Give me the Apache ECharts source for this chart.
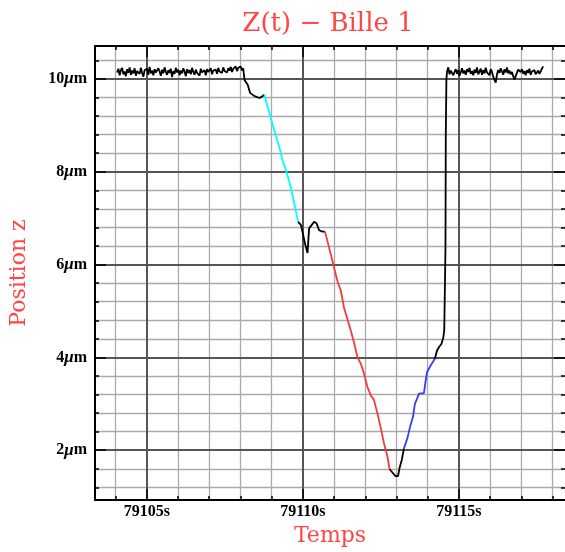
<!DOCTYPE html>
<html>
<head>
<meta charset="utf-8">
<script src="https://cdn.jsdelivr.net/npm/echarts@6/dist/echarts.min.js"></script>
<style>html,body{margin:0;padding:0;background:#fff;}#c{width:565px;height:552px;}</style>
</head>
<body>
<div id="c"></div>
<script>
// ---- axis ranges and ticks ----
const xRange = [79103.34, 79118.40];
const yRange = [0.925, 10.71];
const xMajor = [79105, 79110, 79115];
const xMinor = [79104, 79106, 79107, 79108, 79109, 79111, 79112, 79113, 79114, 79116, 79117, 79118];
const yMajor = [2, 4, 6, 8, 10];
const yMinor = [1.2, 1.6, 2.4, 2.8, 3.2, 3.6, 4.4, 4.8, 5.2, 5.6, 6.4, 6.8, 7.2, 7.6, 8.4, 8.8, 9.2, 9.6, 10.4];

// ---- data: plateaus (sampled every 0.04 s) ----
const plateau1Start = 79104.05;
const plateau2Start = 79114.62;
const sampleStep = 0.04;
const plateau1 = [10.14,10.22,10.08,10.19,10.24,10.10,10.16,10.06,10.21,10.13,
  10.25,10.09,10.18,10.12,10.23,10.07,10.17,10.20,10.11,10.24,
  10.13,10.05,10.19,10.15,10.22,10.09,10.26,10.12,10.18,10.08,
  10.21,10.14,10.10,10.23,10.16,10.07,10.20,10.12,10.25,10.15,
  10.09,10.19,10.13,10.22,10.04,10.17,10.11,10.24,10.14,10.20,
  10.08,10.18,10.12,10.23,10.16,10.06,10.21,10.13,10.19,10.10,
  10.24,10.15,10.09,10.20,10.13,10.17,10.07,10.22,10.14,10.11,
  10.19,10.08,10.21,10.15,10.12,10.23,10.10,10.18,10.14,10.20,
  10.11,10.24,10.16,10.19,10.13,10.25,10.17,10.21,10.14,10.23,
  10.18,10.26,10.15,10.22,10.19,10.27,10.17,10.24,10.20,10.27,
  10.18,10.23];
const plateau2 = [10.16,10.25,10.10,10.18,10.22,10.08,10.15,10.21,10.11,10.19,
  10.07,10.14,10.23,10.12,10.18,10.09,10.21,10.15,10.24,10.11,
  10.17,10.08,10.20,10.13,10.25,10.10,10.16,10.22,10.09,10.19,
  10.12,10.24,10.14,10.18,10.08,10.21,10.15,10.05,9.98,9.92,
  10.10,10.19,10.13,10.23,10.16,10.09,10.21,10.14,10.25,10.12,
  10.18,10.10,10.15,10.06,9.99,9.95,10.13,10.20,10.24,10.15,
  10.21,10.11,10.17,10.08,10.19,10.13,10.22,10.09,10.16,10.12,
  10.19,10.10,10.14,10.18,10.11,10.16,10.22,10.27];

// ---- data: transition segments [time s, z µm] ----
const dropBlack = [[79108.13,9.98],[79108.23,9.88],[79108.31,9.70],[79108.45,9.63],[79108.61,9.59],[79108.71,9.63],[79108.77,9.66]];
const cyanSeg = [[79108.77,9.66],[79108.82,9.52],[79108.93,9.27],[79109.03,9.02],[79109.14,8.77],[79109.25,8.53],[79109.35,8.24],[79109.46,8.03],[79109.57,7.78],[79109.67,7.50],[79109.78,7.14],[79109.85,6.92]];
const dipBlack = [[79109.85,6.92],[79109.94,6.85],[79110.01,6.64],[79110.08,6.42],[79110.15,6.25],[79110.16,6.21],[79110.20,6.78],[79110.26,6.82],[79110.36,6.92],[79110.44,6.89],[79110.52,6.74],[79110.63,6.71],[79110.71,6.71]];
const redSeg = [[79110.71,6.71],[79110.79,6.50],[79110.90,6.21],[79111.00,5.93],[79111.11,5.64],[79111.22,5.43],[79111.32,5.07],[79111.43,4.82],[79111.54,4.57],[79111.64,4.32],[79111.75,4.00],[79111.86,3.86],[79111.96,3.65],[79112.07,3.36],[79112.18,3.18],[79112.28,3.08],[79112.39,2.79],[79112.50,2.47],[79112.60,2.15],[79112.71,1.87],[79112.78,1.59]];
const minBlack = [[79112.78,1.59],[79112.87,1.52],[79112.97,1.44],[79113.05,1.44],[79113.10,1.62],[79113.17,1.79],[79113.24,2.04]];
const blueSeg = [[79113.24,2.04],[79113.35,2.26],[79113.45,2.54],[79113.53,2.72],[79113.59,3.00],[79113.66,3.11],[79113.72,3.22],[79113.88,3.23],[79113.93,3.47],[79113.98,3.68],[79114.09,3.82],[79114.23,3.97]];
const riseBlack = [[79114.23,3.97],[79114.30,4.15],[79114.36,4.22],[79114.44,4.29],[79114.50,4.43],[79114.53,4.57],[79114.55,5.43],[79114.57,6.35],[79114.58,8.77],[79114.60,9.99]];

const C_BLACK = '#000000', C_CYAN = '#00ffff', C_RED = '#f23c3c', C_BLUE = '#3a3aff';

function plateauPairs(start, vals) {
  return vals.map((v, i) => [+(start + i * sampleStep).toFixed(2), v]);
}
const seg1 = plateauPairs(plateau1Start, plateau1).concat(dropBlack);
const seg7 = riseBlack.concat(plateauPairs(plateau2Start, plateau2));
const segments = [
  [seg1, C_BLACK], [cyanSeg, C_CYAN], [dipBlack, C_BLACK], [redSeg, C_RED],
  [minBlack, C_BLACK], [blueSeg, C_BLUE], [seg7, C_BLACK]
];

const MINOR_GRID = '#aaaaaa', MAJOR_GRID = '#555555';
const gridLines = []
  .concat(xMinor.map(v => ({xAxis: v, lineStyle: {color: MINOR_GRID, width: 1.3, type: 'solid'}})))
  .concat(yMinor.map(v => ({yAxis: v, lineStyle: {color: MINOR_GRID, width: 1.3, type: 'solid'}})))
  .concat(xMajor.map(v => ({xAxis: v, lineStyle: {color: MAJOR_GRID, width: 2, type: 'solid'}})))
  .concat(yMajor.map(v => ({yAxis: v, lineStyle: {color: MAJOR_GRID, width: 2, type: 'solid'}})));

const LABEL_FONT = 'Liberation Serif';
const NAME_FONT = 'DejaVu Serif';
const RED_TXT = '#ff4646';

function xAx(pos, ticks, len, opts) {
  return Object.assign({
    type: 'value', position: pos, min: xRange[0], max: xRange[1], z: 10,
    axisLine: {show: false},
    axisTick: {show: true, inside: true, length: len, customValues: ticks, lineStyle: {color: '#000', width: 1.5}},
    axisLabel: {show: false},
    splitLine: {show: false}
  }, opts || {});
}
function yAx(pos, ticks, len, opts) {
  return Object.assign({
    type: 'value', position: pos, min: yRange[0], max: yRange[1], z: 10,
    axisLine: {show: false},
    axisTick: {show: true, inside: true, length: len, customValues: ticks, lineStyle: {color: '#000', width: 1.5}},
    axisLabel: {show: false},
    splitLine: {show: false}
  }, opts || {});
}

const option = {
  animation: false,
  backgroundColor: '#fff',
  title: {
    text: 'Z(t) \u2212 Bille 1', left: 323, top: 6, textAlign: 'center',
    textStyle: {fontFamily: NAME_FONT, fontSize: 26, fontWeight: 'normal', color: RED_TXT}
  },
  grid: {left: 95, top: 46, width: 471.5, height: 458},
  xAxis: [
    xAx('bottom', xMajor, 11, {
      axisLine: {show: true, onZero: false, lineStyle: {color: '#000', width: 2}},
      axisLabel: {show: true, customValues: xMajor, margin: 4, formatter: v => v + 's',
        fontFamily: LABEL_FONT, fontSize: 16, fontWeight: 'bold', color: '#000'},
      name: 'Temps', nameLocation: 'middle', nameGap: 18,
      nameTextStyle: {fontFamily: NAME_FONT, fontSize: 22, color: RED_TXT}
    }),
    xAx('bottom', xMinor, 4),
    xAx('top', xMajor, 11, {axisLine: {show: true, onZero: false, lineStyle: {color: '#000', width: 2}}}),
    xAx('top', xMinor, 4)
  ],
  yAxis: [
    yAx('left', yMajor, 11, {
      axisLine: {show: true, onZero: false, lineStyle: {color: '#000', width: 2}},
      axisLabel: {show: true, customValues: yMajor, margin: 8,
        formatter: v => '{n|' + v + '}{u|\u03bc}{n|m}',
        rich: {
          n: {fontFamily: LABEL_FONT, fontSize: 16, fontWeight: 'bold', color: '#000'},
          u: {fontFamily: LABEL_FONT, fontSize: 17, fontWeight: 'bold', fontStyle: 'italic', color: '#000'}
        }},
      name: 'Position z', nameLocation: 'middle', nameGap: 65, nameRotate: 90,
      nameTextStyle: {fontFamily: NAME_FONT, fontSize: 22, color: RED_TXT}
    }),
    yAx('left', yMinor, 4),
    yAx('right', yMajor, 11),
    yAx('right', yMinor, 4)
  ],
  series: [
    {
      type: 'line', xAxisIndex: 0, yAxisIndex: 0, z: 1, silent: true,
      data: [[xRange[0], yRange[0]]], showSymbol: false, symbol: 'none',
      lineStyle: {opacity: 0},
      markLine: {silent: true, symbol: ['none', 'none'], label: {show: false}, animation: false, data: gridLines}
    }
  ].concat(segments.map(([d, c]) => ({
    type: 'line', xAxisIndex: 0, yAxisIndex: 0, z: 5, data: d,
    showSymbol: false, symbol: 'none', silent: true,
    lineStyle: {color: c, width: 1.8}
  })))
};

const chart = echarts.init(document.getElementById('c'), null, {renderer: 'canvas'});
chart.setOption(option);
</script>
</body>
</html>
